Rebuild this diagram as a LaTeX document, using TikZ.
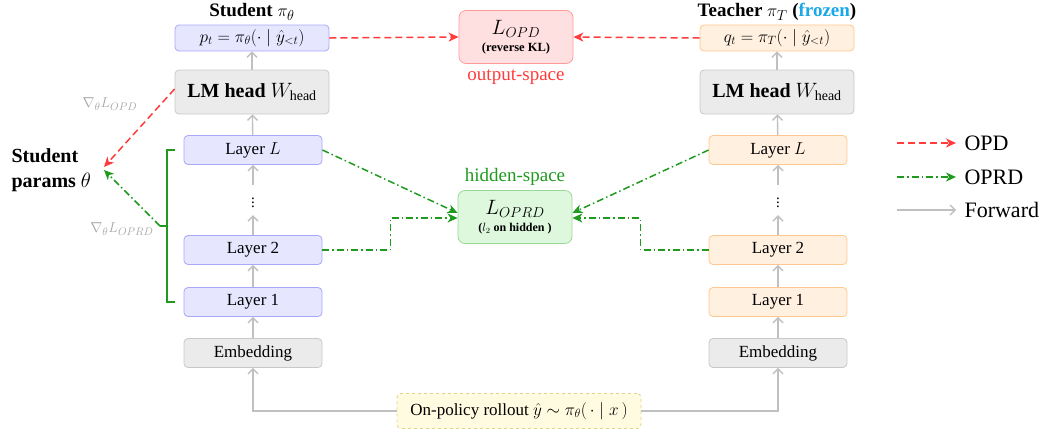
\documentclass[tikz,border=0pt]{standalone}
\usepackage{fontspec}
\setmainfont{Liberation Serif}
\usetikzlibrary{arrows.meta,calc}
\definecolor{studfill}{HTML}{E6E6FF}
\definecolor{studdraw}{HTML}{A8A8F8}
\definecolor{teachfill}{HTML}{FFF0E0}
\definecolor{teachdraw}{HTML}{FFC890}
\definecolor{grayfill}{HTML}{EBEBEB}
\definecolor{graydraw}{HTML}{C8C8C8}
\definecolor{opdfill}{HTML}{FFE0E0}
\definecolor{opddraw}{HTML}{FF9A9A}
\definecolor{oprdfill}{HTML}{DDF8DD}
\definecolor{oprddraw}{HTML}{99D899}
\definecolor{rollfill}{HTML}{FFFBE0}
\definecolor{rolldraw}{HTML}{E0D488}
\definecolor{opdred}{HTML}{FF3B3B}
\definecolor{oprdgreen}{HTML}{1E9A1E}
\definecolor{fwdgray}{HTML}{C0C0C0}
\definecolor{labgray}{HTML}{A8A8A8}
\definecolor{frozen}{HTML}{1AA8E8}
\begin{document}
\begin{tikzpicture}[x=1pt,y=-1pt,
  box/.style={draw, rounded corners=4pt, line width=0.8pt, align=center, inner sep=0pt},
  stud/.style={box, fill=studfill, draw=studdraw, minimum width=138pt, minimum height=29pt, font=\fontsize{17}{19}\selectfont},
  teach/.style={box, fill=teachfill, draw=teachdraw, minimum width=138pt, minimum height=29pt, font=\fontsize{17}{19}\selectfont},
  graybox/.style={box, fill=grayfill, draw=graydraw, minimum width=138pt, minimum height=29pt, font=\fontsize{17}{19}\selectfont},
  headbox/.style={graybox, minimum width=154pt, minimum height=44pt, font=\fontsize{20}{22}\selectfont\bfseries},
  outbox/.style={minimum width=154pt, minimum height=26pt, font=\fontsize{17}{19}\selectfont},
  lossbox/.style={box, minimum width=114pt, minimum height=53pt, rounded corners=7pt, font=\fontsize{20}{19}\selectfont},
  dotsnode/.style={minimum height=30pt, inner sep=0pt, font=\fontsize{15}{17}\selectfont},
  fwd/.style={draw=fwdgray, line width=1.4pt, -{Straight Barb[length=5pt,width=10pt,line width=1.4pt]}},
  opdline/.style={draw=opdred, line width=1.5pt, dash pattern=on 7pt off 4pt, -{Stealth[length=10pt,width=9pt,inset=3pt]}},
  oprdline/.style={draw=oprdgreen, line width=1.5pt, dash pattern=on 7pt off 3pt on 1.5pt off 3pt, -{Stealth[length=10pt,width=9pt,inset=3pt]}},
  title/.style={font=\fontsize{19}{21}\selectfont\bfseries},
  legtext/.style={anchor=west, font=\fontsize{22}{24}\selectfont},
  gradlab/.style={text=labgray, font=\fontsize{15.5}{17}\selectfont}]
\useasboundingbox (0,0) rectangle (1043,432);

% ---- Student column ----
\node[title] (stitle) at (252,12) {Student $\pi_\theta$};
\node[stud, outbox] (sp) at (252,38) {$p_t=\pi_\theta(\cdot\mid\hat y_{<t})$};
\node[headbox] (slm) at (252,92) {LM head $W_{\mathrm{head}}$};
\node[stud] (sL) at (253,150) {Layer $L$};
\node[dotsnode] (sdots) at (253,200) {$\vdots$};
\node[stud] (s2) at (253,250) {Layer 2};
\node[stud] (s1) at (253,302) {Layer 1};
\node[graybox] (semb) at (253,353) {Embedding};

% ---- Teacher column ----
\node[title] (ttitle) at (777,12) {Teacher $\pi_T$ (\textcolor{frozen}{frozen})};
\node[teach, outbox] (tq) at (777,38) {$q_t=\pi_T(\cdot\mid\hat y_{<t})$};
\node[headbox] (tlm) at (777,92) {LM head $W_{\mathrm{head}}$};
\node[teach] (tL) at (778,150) {Layer $L$};
\node[dotsnode] (tdots) at (778,200) {$\vdots$};
\node[teach] (t2) at (778,250) {Layer 2};
\node[teach] (t1) at (778,302) {Layer 1};
\node[graybox] (temb) at (778,353) {Embedding};

% ---- Rollout ----
\node[box, fill=rollfill, draw=rolldraw, dashed, minimum width=244pt, minimum height=35pt, font=\fontsize{17}{19}\selectfont] (roll) at (519,411) {On-policy rollout $\hat y\sim\pi_\theta(\,\cdot\mid x\,)$};

% ---- Losses ----
\node[lossbox, fill=opdfill, draw=opddraw] (lopd) at (516,37) {$L_{OPD}$\\[-2pt]{\fontsize{12.5}{13}\selectfont\bfseries (reverse KL)}};
\node[text=opdred, font=\fontsize{19}{21}\selectfont] (outsp) at (516,77) {output-space};
\node[lossbox, fill=oprdfill, draw=oprddraw] (loprd) at (515,217) {$L_{OPRD}$\\[-2pt]{\fontsize{12}{13}\selectfont\bfseries ($l_2$ on hidden )}};
\node[text=oprdgreen, font=\fontsize{19}{21}\selectfont] (hidsp) at (515,177) {hidden-space};

% ---- Student params ----
\node[anchor=west, align=left, font=\fontsize{20}{25}\selectfont\bfseries] (params) at (8,170) {Student\\params $\theta$};
\coordinate (tipopd) at (104,167);
\coordinate (tipoprd) at (104,170);
\node[gradlab] (gopd) at (110,104) {$\nabla_\theta L_{OPD}$};
\node[gradlab] (goprd) at (122,229) {$\nabla_\theta L_{OPRD}$};

% brace
\coordinate (bt) at (167,150);
\coordinate (bb) at (167,302);
\coordinate (bm) at (167,226);
\coordinate (bmo) at (160,226);
\draw[oprdgreen, line width=1.5pt] ([xshift=8pt]bt) -- (bt) -- (bb) -- ([xshift=8pt]bb);
\draw[oprdgreen, line width=1.5pt] (bm) -- (bmo);

% ---- Forward arrows ----
\draw[fwd] (slm) -- (sp);
\draw[fwd] (sL) -- (slm);
\draw[fwd] (sdots) -- (sL);
\draw[fwd] (s2) -- (sdots);
\draw[fwd] (s1) -- (s2);
\draw[fwd] (semb) -- (s1);
\draw[fwd] (tlm) -- (tq);
\draw[fwd] (tL) -- (tlm);
\draw[fwd] (tdots) -- (tL);
\draw[fwd] (t2) -- (tdots);
\draw[fwd] (t1) -- (t2);
\draw[fwd] (temb) -- (t1);
\draw[fwd] (roll.west) -| (semb.south);
\draw[fwd] (roll.east) -| (temb.south);

% ---- OPD arrows ----
\draw[opdline] (sp.east) -- (lopd.west);
\draw[opdline] (tq.west) -- (lopd.east);
\draw[opdline] ($(slm.west)+(0,-3)$) -- (tipopd);

% ---- OPRD arrows ----
\draw[oprdline] (sL.east) -- ($(loprd.west)+(0,-4)$);
\draw[oprdline] (s2.east) -- ++(68,0) |- ($(loprd.west)+(0,1)$);
\draw[oprdline] (tL.west) -- ($(loprd.east)+(0,-4)$);
\draw[oprdline] (t2.west) -- ++(-68,0) |- ($(loprd.east)+(0,1)$);
\draw[oprdline] (bmo) -- (tipoprd);

% ---- Legend ----
\coordinate (l1a) at (897,143); \coordinate (l1b) at (956,143);
\coordinate (l2a) at (897,177); \coordinate (l2b) at (956,177);
\coordinate (l3a) at (897,210); \coordinate (l3b) at (956,210);
\draw[opdline] (l1a) -- (l1b);
\draw[oprdline] (l2a) -- (l2b);
\draw[fwd] (l3a) -- (l3b);
\node[legtext] (lt1) at (961,143) {OPD};
\node[legtext] (lt2) at (961,177) {OPRD};
\node[legtext] (lt3) at (961,210) {Forward};
\end{tikzpicture}
\end{document}
